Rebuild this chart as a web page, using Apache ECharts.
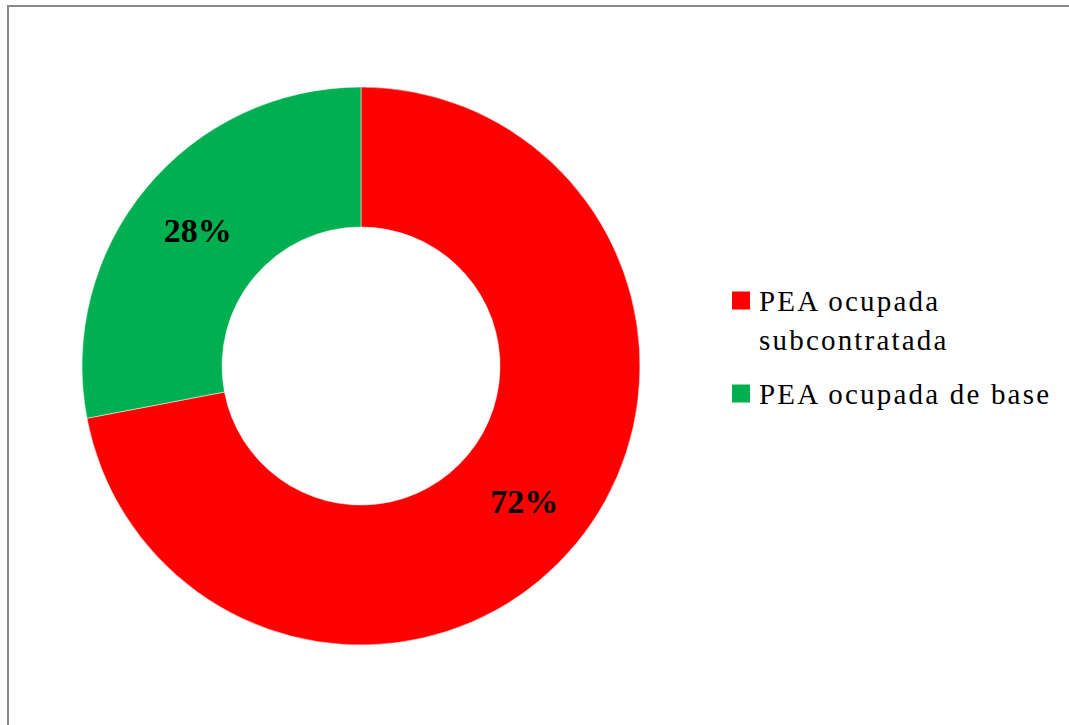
<!DOCTYPE html>
<html>
<head>
<meta charset="utf-8">
<script src="https://cdn.jsdelivr.net/npm/echarts@6/dist/echarts.min.js"></script>
<style>
  html, body { margin: 0; padding: 0; background: #fff; }
  #frame { position: absolute; left: 7px; top: 5px; width: 1200px; height: 900px;
           border-top: 2px solid #898989; border-left: 2px solid #898989; }
  #chart { position: absolute; left: 0; top: 0; width: 1069px; height: 725px; }
</style>
</head>
<body>
<div id="frame"></div>
<div id="chart"></div>
<script>
// Data
const categories = ['PEA ocupada\nsubcontratada', 'PEA ocupada de base'];
const values = [72, 28];
const colors = ['#FF0000', '#00B050'];

const chart = echarts.init(document.getElementById('chart'), null, { renderer: 'svg' });

const seriesData = categories.map((name, i) => ({
  name: name,
  value: values[i],
  itemStyle: { color: colors[i] }
}));

const option = {
  animation: false,
  backgroundColor: 'transparent',
  legend: {
    orient: 'vertical',
    left: 730,
    top: 242,
    padding: 0,
    itemWidth: 20,
    itemHeight: 20,
    itemGap: 15,
    icon: 'rect',
    selectedMode: false,
    // multi-line names: keep the first line level with the marker
    formatter: function (name) {
      return name.indexOf('\n') >= 0 ? '\n' + name : name;
    },
    textStyle: {
      fontFamily: 'Liberation Serif',
      fontSize: 29,
      lineHeight: 39,
      color: '#000',
      padding: [0, 0, 0, 3]
    },
    data: categories
  },
  series: [{
    type: 'pie',
    center: [361, 366],
    radius: [139, 279],
    startAngle: 90,
    clockwise: true,
    silent: true,
    itemStyle: { borderColor: '#fff', borderWidth: 0.5 },
    label: {
      show: true,
      position: 'inside',
      formatter: '{c}%',
      fontFamily: 'Liberation Serif',
      fontWeight: 'bold',
      fontSize: 34,
      color: '#000'
    },
    labelLine: { show: false },
    emphasis: { disabled: true },
    data: seriesData
  }]
};

chart.setOption(option);

// Widen legend text tracking like the original rendering
function applySpacing() {
  const lines = [];
  categories.forEach(c => c.split('\n').forEach(l => lines.push(l)));
  document.querySelectorAll('#chart text').forEach(t => {
    if (lines.indexOf(t.textContent) >= 0) {
      t.setAttribute('letter-spacing', '2.2');
    }
  });
}
applySpacing();
chart.on('finished', applySpacing);
</script>
</body>
</html>
